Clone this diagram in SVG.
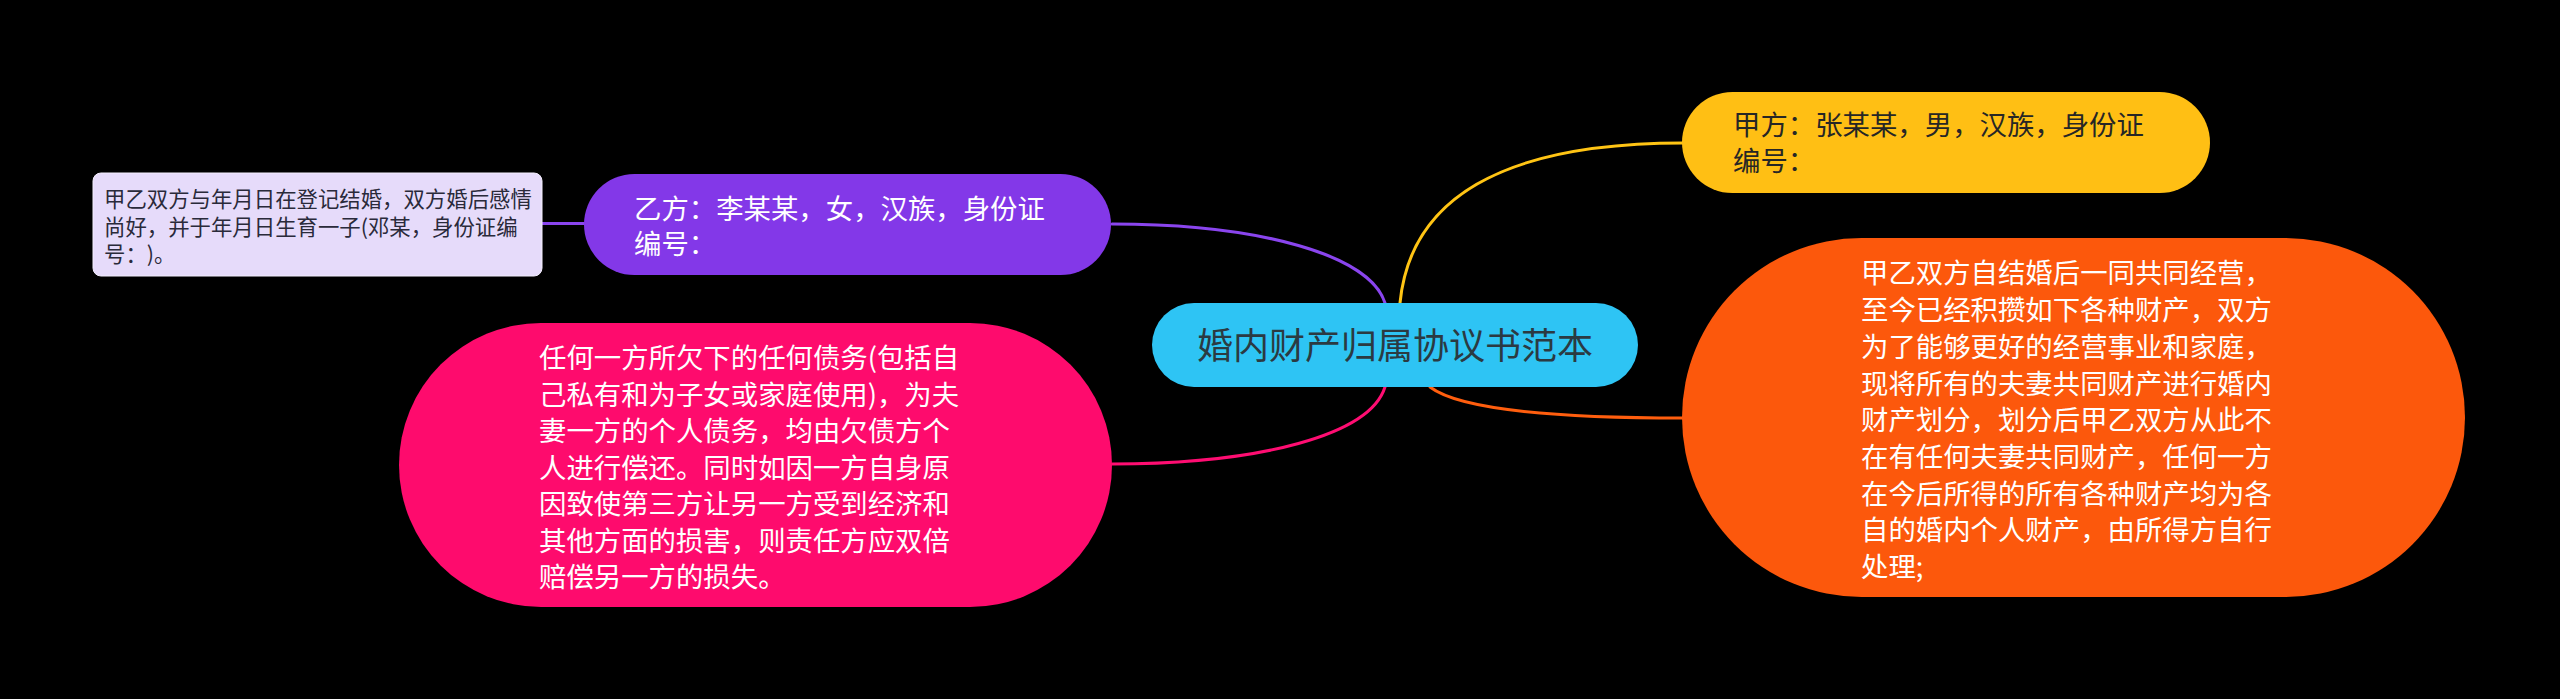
<svg xmlns="http://www.w3.org/2000/svg" width="2560" height="699" viewBox="0 0 2560 699">
<style>
text{font-family:"Noto Sans CJK SC","Noto Sans",sans-serif;text-spacing-trim:space-all;}
.main{font-size:27.4px;}
.light{fill:#ffffff;}
.dark{fill:#262626;}
.small{font-size:21.4px;fill:#2a2a3a;}
.center{font-size:36px;fill:#2b3a42;}
.conn{fill:none;stroke-width:3;stroke-linecap:round;}
</style>
<rect x="0" y="0" width="2560" height="699" fill="#000000"/>
<g id="connectors">
<path class="conn" d="M1400,303 C1410,200 1500,143 1683,143" stroke="#FFC414"/>
<path class="conn" d="M1385,303 C1370,255 1260,224 1112,224" stroke="#8A45EE"/>
<path class="conn" d="M542,223.5 L584,223.5" stroke="#8A45EE"/>
<path class="conn" d="M1385,387 C1370,435 1260,464 1112,464" stroke="#FF0D72"/>
<path class="conn" d="M1430,387 C1460,410 1560,418 1683,418" stroke="#FF5E0E"/>
</g>
<g id="center">
<rect x="1152" y="303" width="486" height="84" rx="42" fill="#2EC4F4"/>
<text class="center" x="1395" y="358.5" text-anchor="middle">婚内财产归属协议书范本</text>
</g>
<g id="node-jia">
<rect x="1682" y="92" width="528" height="101" rx="50.5" fill="#FFBF14"/>
<text class="main dark"><tspan x="1733" y="134.5">甲方：张某某，男，汉族，身份证</tspan><tspan x="1733" y="170.5">编号：</tspan></text>
</g>
<g id="node-yi">
<rect x="584" y="174" width="527" height="101" rx="50.5" fill="#8338E8"/>
<text class="main light"><tspan x="634" y="219">乙方：李某某，女，汉族，身份证</tspan><tspan x="634" y="254">编号：</tspan></text>
</g>
<g id="node-yi-detail">
<rect x="93" y="173" width="449" height="103" rx="8" fill="#E6DBFA" stroke="#F3EEFD" stroke-width="1"/>
<text class="small"><tspan x="104" y="207">甲乙双方与年月日在登记结婚，双方婚后感情</tspan><tspan x="104" y="235">尚好，并于年月日生育一子(邓某，身份证编</tspan><tspan x="104" y="262">号：)。</tspan></text>
</g>
<g id="node-debt">
<rect x="399" y="323" width="713" height="284" rx="142" fill="#FE0B6D"/>
<text class="main light"><tspan x="539" y="368">任何一方所欠下的任何债务(包括自</tspan><tspan x="539" y="404.5">己私有和为子女或家庭使用)，为夫</tspan><tspan x="539" y="441">妻一方的个人债务，均由欠债方个</tspan><tspan x="539" y="477.5">人进行偿还。同时如因一方自身原</tspan><tspan x="539" y="514">因致使第三方让另一方受到经济和</tspan><tspan x="539" y="550.5">其他方面的损害，则责任方应双倍</tspan><tspan x="539" y="587">赔偿另一方的损失。</tspan></text>
</g>
<g id="node-property">
<rect x="1682" y="238" width="783" height="359" rx="179.5" fill="#FC580C"/>
<text class="main light"><tspan x="1861" y="283.4">甲乙双方自结婚后一同共同经营，</tspan><tspan x="1861" y="320.1">至今已经积攒如下各种财产，双方</tspan><tspan x="1861" y="356.8">为了能够更好的经营事业和家庭，</tspan><tspan x="1861" y="393.5">现将所有的夫妻共同财产进行婚内</tspan><tspan x="1861" y="430.2">财产划分，划分后甲乙双方从此不</tspan><tspan x="1861" y="466.9">在有任何夫妻共同财产，任何一方</tspan><tspan x="1861" y="503.6">在今后所得的所有各种财产均为各</tspan><tspan x="1861" y="540.3">自的婚内个人财产，由所得方自行</tspan><tspan x="1861" y="577">处理;</tspan></text>
</g>
</svg>
